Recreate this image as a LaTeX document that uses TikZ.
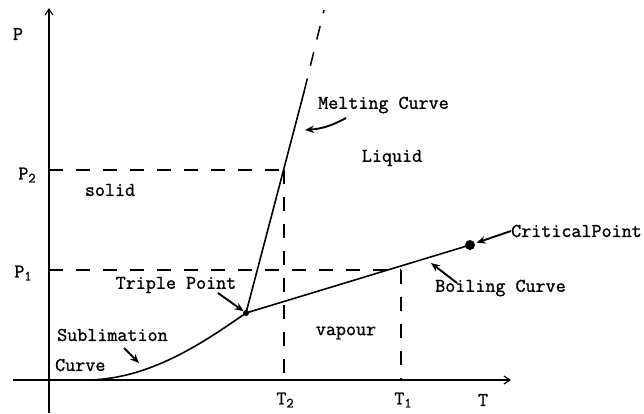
\documentclass[tikz,border=0pt]{standalone}
\usepackage{fontspec}
\newfontfamily\labelfont{Latin Modern Mono}[FakeBold=1.2]
\usetikzlibrary{arrows.meta}
\newcommand{\lowsub}[1]{{\fontsize{14}{15}\selectfont\raisebox{-3pt}{#1}}}
\begin{document}
\begin{tikzpicture}[x=1pt,y=-1pt,
  axis/.style={line width=1.7pt,-{Straight Barb[length=6pt,width=8pt,line width=1.2pt]}},
  curve/.style={line width=1.6pt},
  guide/.style={line width=1.5pt,dash pattern=on 14pt off 13pt},
  lbl/.style={font=\labelfont\fontsize{19.5}{21}\selectfont,inner sep=0pt},
  pointer/.style={line width=1.9pt,-{Stealth[length=9pt,width=7.5pt]}},
  dotmark/.style={circle,fill=black,inner sep=0pt}]
\useasboundingbox (0,0) rectangle (644,413);
% axes
\coordinate (ybot) at (49,413);
\coordinate (ytop) at (49,8);
\coordinate (xleft) at (13,380);
\coordinate (xright) at (511,380);
\draw[axis] (ybot) -- (ytop);
\draw[axis] (xleft) -- (xright);
% key points
\node[dotmark,minimum size=6pt] (tp) at (246,313) {};
\node[dotmark,minimum size=10pt] (cp) at (470,245) {};
\coordinate (msolid) at (304,92);
\coordinate (mdash) at (324,10);
\coordinate (p2l) at (49,170);
\coordinate (p2r) at (284,170);
\coordinate (t2b) at (284,380);
\coordinate (p1l) at (49,270);
\coordinate (p1r) at (401,270);
\coordinate (t1b) at (401,380);
\coordinate (subst) at (90,380);
% curves
\draw[curve] (subst) .. controls (150,378) and (200,345) .. (tp.center);
\draw[curve] (tp.center) -- (cp.center);
\draw[curve] (tp.center) -- (msolid);
\draw[guide] (msolid) -- (mdash);
% guides
\draw[guide] (p2l) -- (p2r);
\draw[guide] (p2r) -- (t2b);
\draw[guide] (p1l) -- (p1r);
\draw[guide] (p1r) -- (t1b);
% axis labels
\node[lbl] (plab) at (18,34) {P};
\node[lbl] (p2lab) at (27,175) {P\lowsub{2}};
\node[lbl] (p1lab) at (23,273) {P\lowsub{1}};
\node[lbl] (t2lab) at (285,400) {T\lowsub{2}};
\node[lbl] (t1lab) at (403,400) {T\lowsub{1}};
\node[lbl] (tlab) at (483,400) {T};
% region labels
\node[lbl] (solid) at (110,190) {solid};
\node[lbl] (liquid) at (392,158) {Liquid};
\node[lbl] (vapour) at (346,333) {vapour};
% curve labels
\node[lbl,anchor=west] (melt) at (318,105) {Melting Curve};
\node[lbl,anchor=west] (crit) at (511,231) {CriticalPoint};
\node[lbl,anchor=west] (boil) at (435,288) {Boiling Curve};
\node[lbl] (triple) at (176,285) {Triple Point};
\node[lbl,anchor=west] (subl) at (57,335) {Sublimation};
\node[lbl,anchor=west] (sublc) at (55,365) {Curve};
% pointers
\coordinate (ma) at (346,118);
\coordinate (mb) at (305,130);
\draw[pointer] (ma) to[bend left=12] (mb);
\draw[pointer,shorten >=7pt] (crit.west) -- (cp.center);
\coordinate (ba) at (457,283);
\coordinate (bb) at (431,263);
\draw[pointer] (ba) -- (bb);
\coordinate (ta) at (218,293);
\draw[pointer,shorten >=3pt] (ta) -- (tp.center);
\coordinate (sa) at (124,348);
\coordinate (sb) at (139,363);
\draw[pointer] (sa) -- (sb);
\end{tikzpicture}
\end{document}
